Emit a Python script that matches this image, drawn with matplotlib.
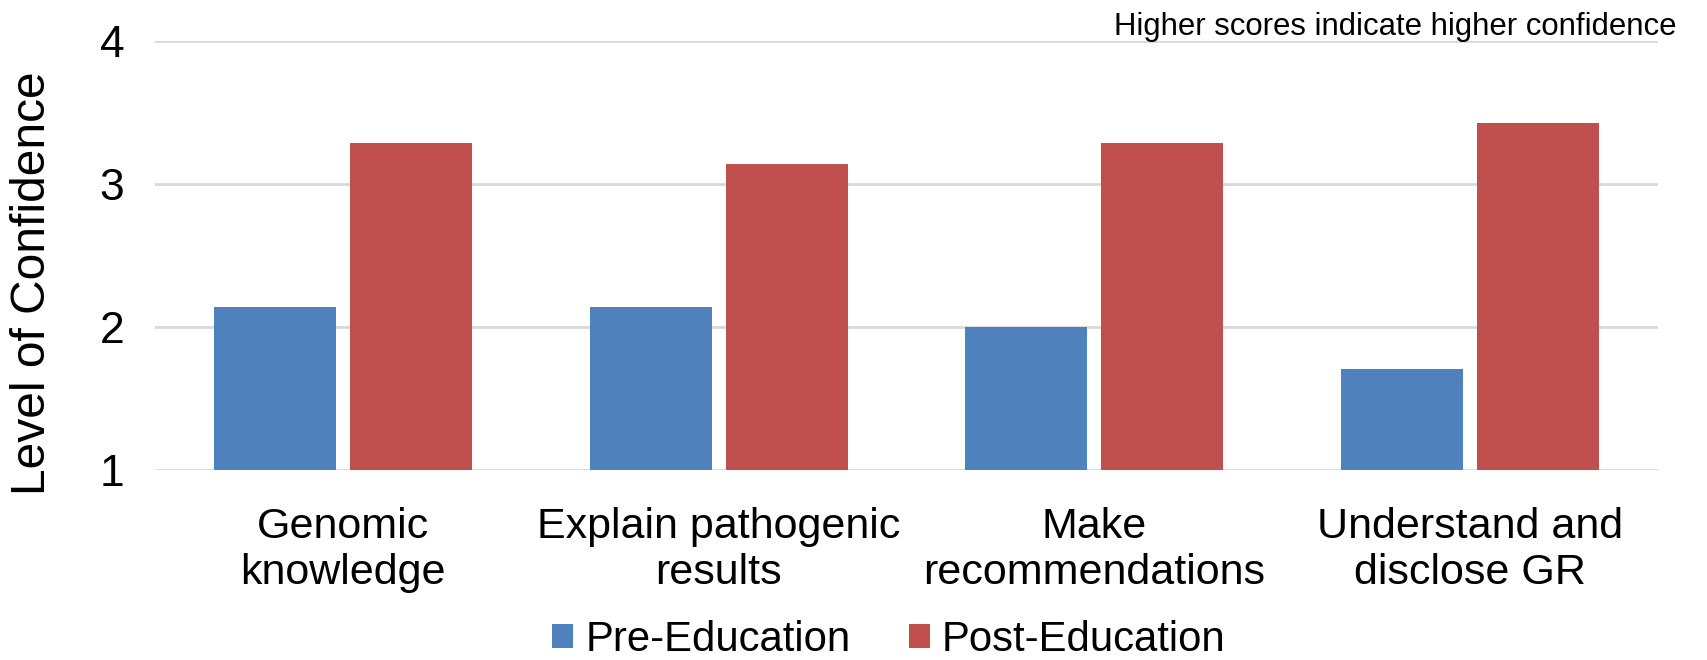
import numpy as np
import matplotlib.pyplot as plt

plt.rcParams['font.family'] = ['Liberation Sans', 'DejaVu Sans']

categories = ['Genomic\nknowledge', 'Explain pathogenic\nresults',
              'Make\nrecommendations', 'Understand and\ndisclose GR']
pre_edu = [2.14, 2.14, 2.00, 1.71]
post_edu = [3.29, 3.14, 3.29, 3.43]
y_ticks = [1, 2, 3, 4]

fig = plt.figure(figsize=(17.07, 6.6), dpi=100)
ax = fig.add_axes([0.0908, 0.2879, 0.8805, 0.6494])

x = np.arange(len(categories))
w = 0.325
off = 0.181
ax.bar(x - off, pre_edu, w, color='#4f81bd', label='Pre-Education', zorder=2)
ax.bar(x + off, post_edu, w, color='#c0504d', label='Post-Education', zorder=2)

ax.set_xlim(-0.5, len(categories) - 0.5)
ax.set_ylim(1, 4)
ax.set_yticks(y_ticks)
ax.yaxis.grid(True, color='#d9d9d9', linewidth=2, zorder=0)
ax.set_axisbelow(True)
for s in ax.spines.values():
    s.set_visible(False)

ax.set_xticks(x)
ax.set_xticklabels(categories, fontsize=31, linespacing=1.19)
ax.tick_params(axis='x', length=0, pad=26.5)
ax.tick_params(axis='y', length=0, pad=22, labelsize=32)

fig.text(33 / 1707, 1 - 283 / 660, 'Level of Confidence', fontsize=34.5,
         rotation=90, ha='center', va='center')

fig.text(1677 / 1707, 1 - 35 / 660, 'Higher scores indicate higher confidence',
         fontsize=22.4, ha='right', va='baseline')

fig.legend(loc='center', bbox_to_anchor=(889 / 1707, 0.03), ncol=2,
           frameon=False, fontsize=30.2, handlelength=0.5, handleheight=0.5,
           handletextpad=0.29, columnspacing=1.38)

plt.savefig('out.png')
